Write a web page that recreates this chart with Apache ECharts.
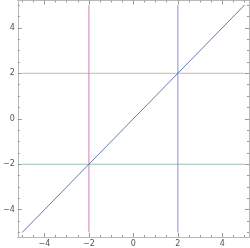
<!DOCTYPE html>
<html><head><meta charset="utf-8">
<script src="https://cdn.jsdelivr.net/npm/echarts@6/dist/echarts.min.js"></script>
<style>html,body{margin:0;padding:0;background:#fff}#c{width:250px;height:248px}</style>
</head><body><div id="c"></div>
<script>
const majorTicks = [-4, -2, 0, 2, 4];
const minorTicks = [-5, -4.5, -3.5, -3, -2.5, -1.5, -1, -0.5, 0.5, 1, 1.5, 2.5, 3, 3.5, 4.5, 5];
const diagX = [-5, 5];
const diagY = [-5, 5];
const vLineX = [-2, 2];
const hLineY = [2, -2];
const lineSpan = [-5, 5];
const vColors = ['#cf7fb3', '#8e8ee0'];
const hColors = ['#c2bba2', '#98c0aa'];

const frame = '#b8b8b8';
function ax(pos, vals, len, labels) {
  return {
    type: 'value', position: pos, min: -5.2, max: 5.2,
    axisLine: {show: true, onZero: false, lineStyle: {color: frame, width: 1}},
    axisTick: {show: true, inside: true, length: len, customValues: vals, lineStyle: {color: '#999'}},
    axisLabel: labels ? {show: true, customValues: vals, fontSize: 8, color: '#555', margin: 3, fontFamily: 'DejaVu Sans',
      formatter: v => (v < 0 ? '\u2212' + (-v) : '' + v)} : {show: false},
    splitLine: {show: false}
  };
}
const xAxes = [ax('bottom', majorTicks, 4, true), ax('bottom', minorTicks, 2, false), ax('top', majorTicks, 4, false), ax('top', minorTicks, 2, false)];
const yAxes = [ax('left', majorTicks, 4, true), ax('left', minorTicks, 2, false), ax('right', majorTicks, 4, false), ax('right', minorTicks, 2, false)];

const series = [];
hLineY.forEach((y, i) => series.push({type: 'line', data: [[lineSpan[0], y], [lineSpan[1], y]], symbol: 'none', lineStyle: {color: hColors[i], width: 1}, silent: true}));
vLineX.forEach((x, i) => series.push({type: 'line', data: [[x, lineSpan[0]], [x, lineSpan[1]]], symbol: 'none', lineStyle: {color: vColors[i], width: 1}, silent: true}));
series.push({type: 'line', data: diagX.map((x, i) => [x, diagY[i]]), symbol: 'none', lineStyle: {color: '#4f6ea8', width: 0.9}, silent: true});

const chart = echarts.init(document.getElementById('c'), null, {renderer: 'canvas'});
chart.setOption({
  animation: false,
  grid: {left: 11, right: 1, top: 0.5, bottom: 9},
  xAxis: xAxes, yAxis: yAxes, series: series
});
</script></body></html>
